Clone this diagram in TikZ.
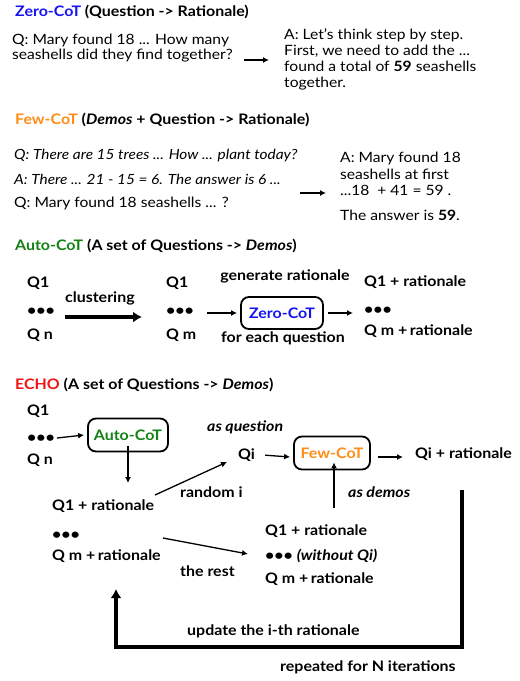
\documentclass[tikz,border=0pt]{standalone}
\usepackage{fontspec}
\setmainfont{Lato}[FakeStretch=1.1]
\usetikzlibrary{arrows.meta}
\definecolor{zblue}{RGB}{20,20,240}
\definecolor{forange}{RGB}{255,140,20}
\definecolor{agreen}{RGB}{20,130,20}
\definecolor{ered}{RGB}{240,20,20}
\begin{document}
\begin{tikzpicture}[x=1pt,y=-1pt,
  hd/.style={anchor=mid west, inner sep=0pt, font=\fontsize{14.5}{17}\selectfont\bfseries},
  txt/.style={anchor=mid west, inner sep=0pt, font=\fontsize{14.2}{17}\selectfont},
  bt/.style={anchor=mid west, inner sep=0pt, font=\fontsize{14.5}{17}\selectfont\bfseries},
  it/.style={anchor=mid west, inner sep=0pt, font=\fontsize{14}{17}\selectfont\itshape},
  bit/.style={anchor=mid west, inner sep=0pt, font=\fontsize{14.5}{17}\selectfont\bfseries\itshape},
  box/.style={draw, line width=1.8pt, rounded corners=8pt, inner sep=0pt, font=\fontsize{14.5}{17}\selectfont\bfseries},
  arr/.style={line width=1.3pt, -{Latex[length=6pt,width=6pt]}},
  bigarr/.style={line width=3.6pt, -{Latex[length=9pt,width=11pt]}}]
\useasboundingbox (0,0) rectangle (520,681);
% ---------- Zero-CoT
\node[hd] (h1) at (15,14) {\textcolor{zblue}{Zero-CoT} (Question -> Rationale)};
\node[txt] (zq1) at (12,42) {Q: Mary found 18 ... How many};
\node[txt] (zq2) at (12,57) {seashells did they find together?};
\coordinate (za) at (244,60); \coordinate (zb) at (269,60);
\draw[arr] (za) -- (zb);
\node[txt] (zr1) at (284,37) {A: Let's think step by step.};
\node[txt] (zr2) at (284,53) {First, we need to add the ...};
\node[txt] (zr3) at (284,69) {found a total of \textbf{59} seashells};
\node[txt] (zr4) at (284,85) {together.};
% ---------- Few-CoT
\node[hd] (h2) at (15,122) {\textcolor{forange}{Few-CoT} (\textit{Demos} + Question -> Rationale)};
\node[it] (fq1) at (14,157) {Q: There are 15 trees ... How ... plant today?};
\node[it] (fq2) at (14,182) {A: There ... 21 - 15 = 6. The answer is 6 ...};
\node[txt] (fq3) at (14,205) {Q: Mary found 18 seashells ... ?};
\coordinate (fa) at (300,193); \coordinate (fb) at (326,193);
\draw[arr] (fa) -- (fb);
\node[txt] (fr1) at (340,160) {A: Mary found 18};
\node[txt] (fr2) at (340,177) {seashells at first};
\node[txt] (fr3) at (340,193) {...18 \ + 41 = 59 .};
\node[txt] (fr4) at (340,218) {The answer is \textbf{59}.};
% ---------- Auto-CoT
\node[hd] (h3) at (15,248) {\textcolor{agreen}{Auto-CoT} (A set of Questions -> \textit{Demos})};
\node[bt] (aq1) at (27,285) {Q1};
\node[bt] (aqd) at (27,313) {•••};
\node[bt] (aqn) at (27,337) {Q n};
\node[bt] (clu) at (65,300) {clustering};
\coordinate (ca) at (65,317); \coordinate (cb) at (142,317);
\draw[bigarr] (ca) -- (cb);
\node[bt] (bq1) at (166,285) {Q1};
\node[bt] (bqd) at (166,313) {•••};
\node[bt] (bqm) at (166,337) {Q m};
\node[box, text=zblue, minimum width=82pt, minimum height=32pt] (zbox) at (282,313) {Zero-CoT};
\coordinate (ba) at (207,313);
\draw[arr] (ba) -- ([xshift=-3pt]zbox.west);
\node[bt, anchor=mid] (gen) at (285,278) {generate rationale};
\node[bt, anchor=mid] (fe) at (283,340) {for each question};
\coordinate (zc) at (353,313);
\draw[arr] ([xshift=4pt]zbox.east) -- (zc);
\node[bt] (cq1) at (364,284) {Q1 + rationale};
\node[bt] (cqd) at (364,312) {•••};
\node[bt] (cqm) at (364,333) {Q m +\,rationale};
% ---------- ECHO
\node[hd] (h4) at (15,387) {\textcolor{ered}{ECHO} (A set of Questions -> \textit{Demos})};
\node[bt] (eq1) at (27,413) {Q1};
\node[bt] (eqd) at (27,440) {•••};
\node[bt] (eqn) at (27,462) {Q n};
\node[box, text=agreen, minimum width=80pt, minimum height=33pt] (abox) at (128,435) {Auto-CoT};
\coordinate (ea) at (57,438);
\draw[arr] (ea) -- ([xshift=-3pt]abox.west);
\coordinate (eb) at (128,483);
\draw[arr] ([yshift=6pt]abox.south) -- (eb);
\node[bt] (rq1) at (52,508) {Q1 + rationale};
\node[bt] (rqd) at (52,537) {•••};
\node[bt] (rqm) at (52,558) {Q m +\,rationale};
\coordinate (ra) at (155,495); \coordinate (rb) at (227,462);
\draw[arr] (ra) -- (rb);
\node[bt] (rnd) at (180,495) {random i};
\node[bit] (asq) at (207,429) {as question};
\node[bt] (qi) at (238,457) {Qi};
\node[box, text=forange, minimum width=76pt, minimum height=33pt] (fbox) at (332,453) {Few-CoT};
\draw[arr] ([xshift=10pt]qi.east) -- ([xshift=-3pt]fbox.west |- qi.mid);
\node[bt] (qir) at (415,456) {Qi + rationale};
\draw[arr] ([xshift=7pt]fbox.east |- qi.mid) -- ([xshift=-12pt]qir.west |- qi.mid);
\coordinate (da) at (334,508);
\draw[arr] (da) -- ([yshift=8pt]fbox.south -| da);
\node[bit] (asd) at (348,495) {as demos};
\coordinate (sa) at (163,538); \coordinate (sb) at (248,554);
\draw[arr] (sa) -- (sb);
\node[bt] (rest) at (180,574) {the rest};
\node[bt] (wq1) at (265,533) {Q1 + rationale};
\node[bt] (wqd) at (265,558) {••• \textit{(without Qi)}};
\node[bt] (wqm) at (265,581) {Q m +\,rationale};
% loop
\coordinate (la) at (462,490);
\coordinate (lb) at (462,647);
\coordinate (lc) at (116,647);
\coordinate (ld) at (116,589);
\draw[line width=3.6pt, -{Latex[length=9pt,width=11pt]}] (la) -- (lb) -- (lc) -- (ld);
\node[bt] (upd) at (187,633) {update the i-th rationale};
\node[bt] (rep) at (280,669) {repeated for N iterations};
\end{tikzpicture}
\end{document}
